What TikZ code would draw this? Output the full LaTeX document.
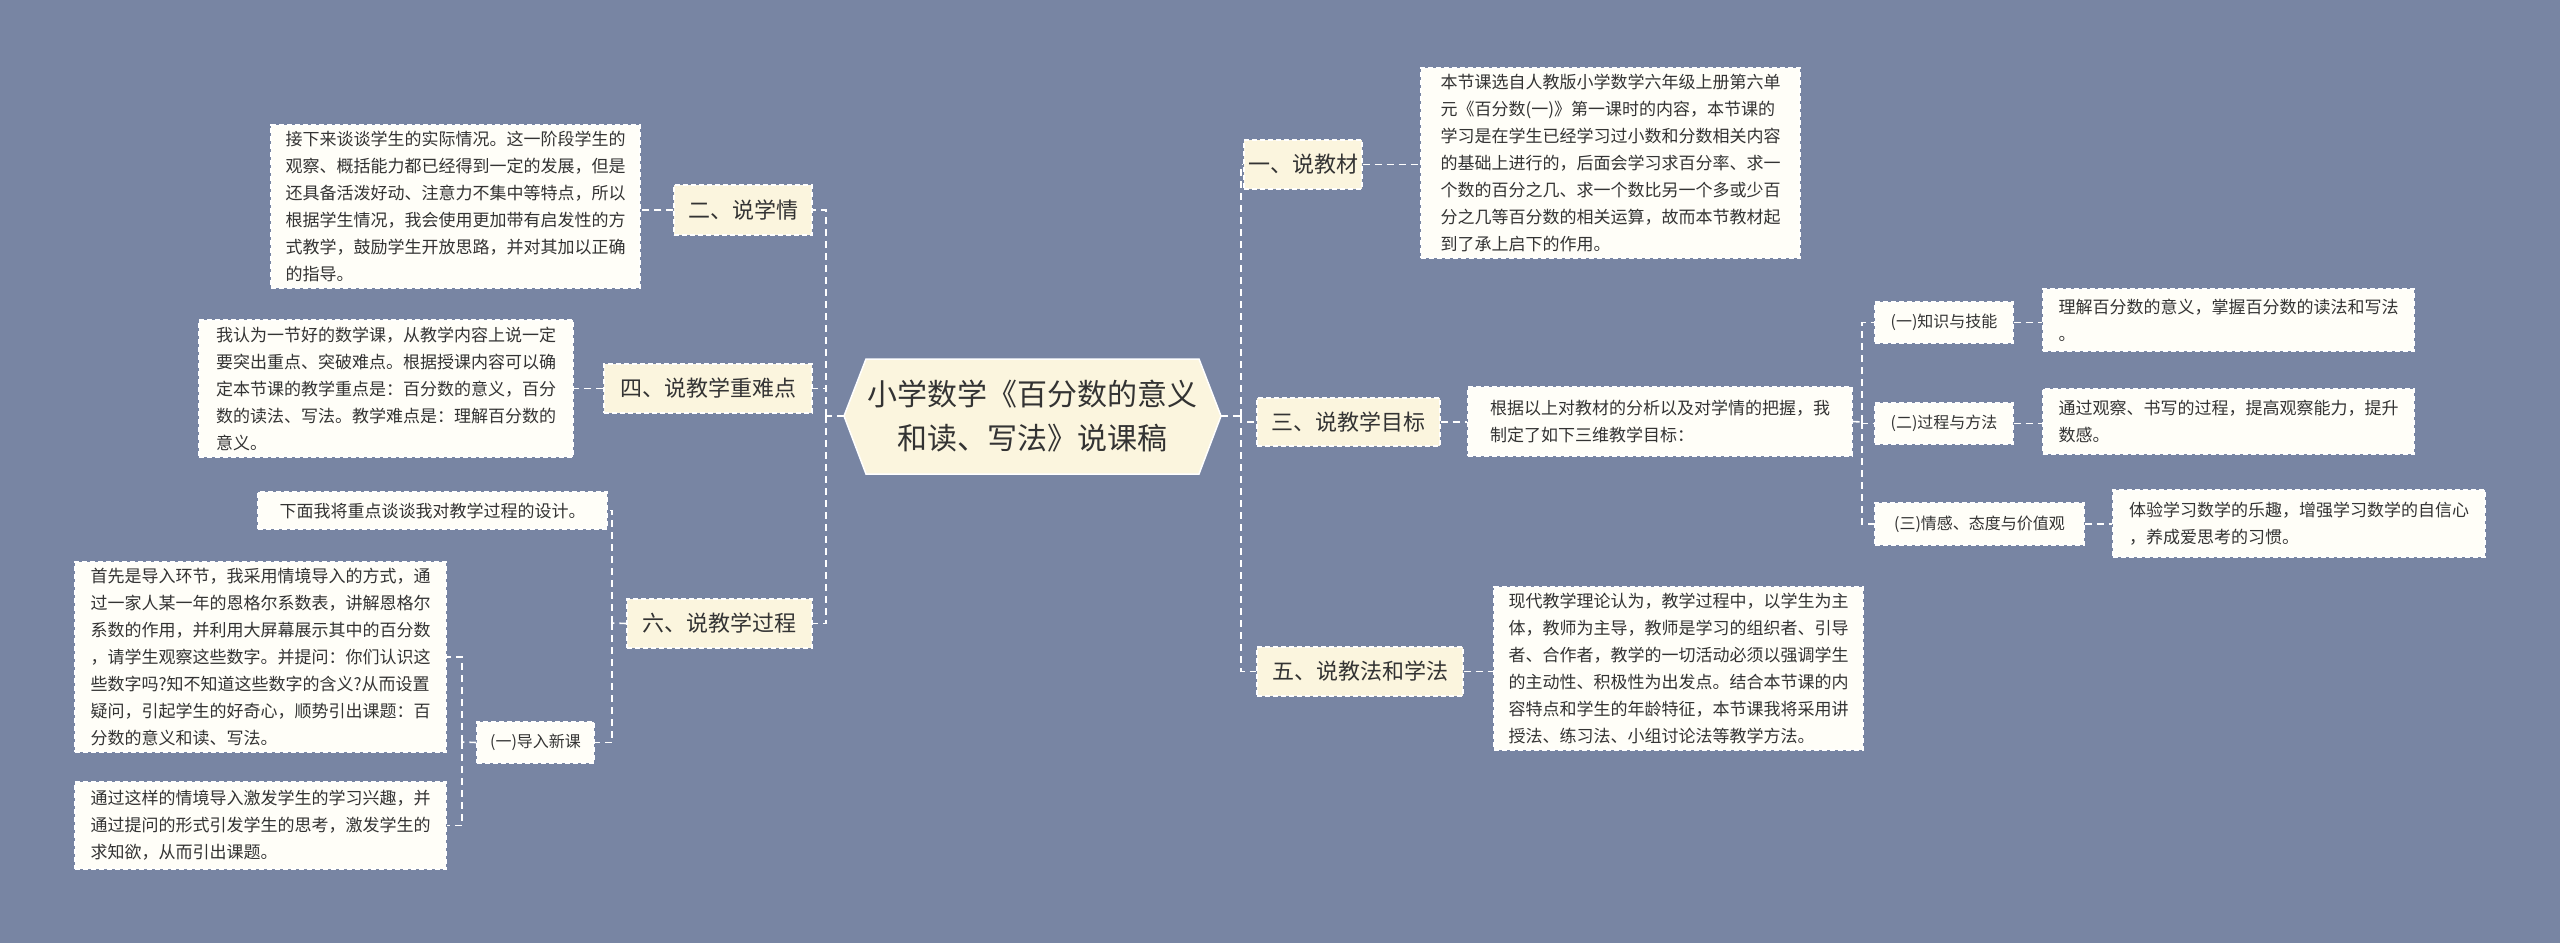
\documentclass[tikz,border=0pt]{standalone}
\usepackage{fontspec}
\setmainfont{Noto Sans CJK SC}
\begin{document}
\definecolor{bg}{HTML}{7885A3}
\definecolor{cream}{HTML}{FBF5DE}
\definecolor{paper}{HTML}{FFFEF8}
\definecolor{ink}{HTML}{333333}
\newcommand\bx[7]{\node[#6,minimum width={#4-#2},minimum height={#5-#3}] (#1) at ({(#2+#4)/2},{(#3+#5)/2}) {#7};}
\begin{tikzpicture}[x=1pt,y=-1pt,
  conn/.style={draw=white,line width=1.6pt,dash pattern=on 7pt off 5pt},
  lvone/.style={fill=cream,draw=white,line width=1.3pt,dash pattern=on 5pt off 3pt,text=ink,font=\fontsize{22}{26}\selectfont,inner sep=4pt},
  lvtwo/.style={fill=paper,draw=white,line width=1.3pt,dash pattern=on 5pt off 3pt,text=ink,font=\fontsize{16}{20}\selectfont,inner sep=4pt},
  detail/.style={fill=paper,draw=white,line width=1.3pt,dash pattern=on 5pt off 3pt,text=ink,font=\fontsize{17}{27}\selectfont,align=left,inner sep=6pt}]
\fill[bg] (0,0) rectangle (2560,943);
\useasboundingbox (0,0) rectangle (2560,943);
% central
\coordinate (cL) at (844,416);
\coordinate (cR) at (1221,416);
\fill[cream,draw=white,line width=1.5pt] (cL) -- (866,359) -- (1199,359) -- (cR) -- (1199,474) -- (866,474) -- cycle;
\node[text=ink,font=\fontsize{30}{44}\selectfont,align=center] (center) at (1032,416) {小学数学《百分数的意义\\和读、写法》说课稿};
% right side
\bx{n1}{1257}{140}{1349}{189}{lvone}{一、说教材}
\bx{d1}{1421}{73}{1800}{253}{detail}{本节课选自人教版小学数学六年级上册第六单\\元《百分数(一)》第一课时的内容，本节课的\\学习是在学生已经学习过小数和分数相关内容\\的基础上进行的，后面会学习求百分率、求一\\个数的百分之几、求一个数比另一个多或少百\\分之几等百分数的相关运算，故而本节教材起\\到了承上启下的作用。}
\bx{n3}{1257}{398}{1440}{446}{lvone}{三、说教学目标}
\bx{d3}{1468}{387}{1852}{456}{detail}{根据以上对教材的分析以及对学情的把握，我\\制定了如下三维教学目标：}
\bx{s1}{1875}{302}{2013}{343}{lvtwo}{(一)知识与技能}
\bx{e1}{2043}{289}{2414}{351}{detail}{理解百分数的意义，掌握百分数的读法和写法\\。}
\bx{s2}{1875}{403}{2013}{444}{lvtwo}{(二)过程与方法}
\bx{e2}{2043}{389}{2414}{454}{detail}{通过观察、书写的过程，提高观察能力，提升\\数感。}
\bx{s3}{1875}{503}{2084}{545}{lvtwo}{(三)情感、态度与价值观}
\bx{e3}{2113}{490}{2485}{557}{detail}{体验学习数学的乐趣，增强学习数学的自信心\\，养成爱思考的习惯。}
\bx{n5}{1257}{647}{1463}{696}{lvone}{五、说教法和学法}
\bx{d5}{1494}{591}{1863}{746}{detail}{现代教学理论认为，教学过程中，以学生为主\\体，教师为主导，教师是学习的组织者、引导\\者、合作者，教学的一切活动必须以强调学生\\的主动性、积极性为出发点。结合本节课的内\\容特点和学生的年龄特征，本节课我将采用讲\\授法、练习法、小组讨论法等教学方法。}
% left side
\bx{n2}{674}{185}{812}{235}{lvone}{二、说学情}
\bx{d2}{271}{129}{640}{284}{detail}{接下来谈谈学生的实际情况。这一阶段学生的\\观察、概括能力都已经得到一定的发展，但是\\还具备活泼好动、注意力不集中等特点，所以\\根据学生情况，我会使用更加带有启发性的方\\式教学，鼓励学生开放思路，并对其加以正确\\的指导。}
\bx{n4}{604}{364}{812}{413}{lvone}{四、说教学重难点}
\bx{d4}{199}{320}{573}{457}{detail}{我认为一节好的数学课，从教学内容上说一定\\要突出重点、突破难点。根据授课内容可以确\\定本节课的教学重点是：百分数的意义，百分\\数的读法、写法。教学难点是：理解百分数的\\意义。}
\bx{n6}{627}{599}{812}{648}{lvone}{六、说教学过程}
\bx{d6}{258}{492}{607}{529}{detail}{下面我将重点谈谈我对教学过程的设计。}
\bx{s6}{477}{722}{594}{763}{lvtwo}{(一)导入新课}
\bx{f1}{75}{568}{446}{746}{detail}{首先是导入环节，我采用情境导入的方式，通\\过一家人某一年的恩格尔系数表，讲解恩格尔\\系数的作用，并利用大屏幕展示其中的百分数\\，请学生观察这些数字。并提问：你们认识这\\些数字吗?知不知道这些数字的含义?从而设置\\疑问，引起学生的好奇心，顺势引出课题：百\\分数的意义和读、写法。}
\bx{f2}{75}{782}{446}{869}{detail}{通过这样的情境导入激发学生的学习兴趣，并\\通过提问的形式引发学生的思考，激发学生的\\求知欲，从而引出课题。}
% connectors
\coordinate (rt) at (1241,416);
\coordinate (lt) at (826,416);
\draw[conn] (cR) -- (rt);
\draw[conn] (cL) -- (lt);
\foreach \n in {n1,n3,n5} \draw[conn] (rt) |- (\n.west);
\foreach \n in {n2,n4,n6} \draw[conn] (lt) |- (\n.east);
\draw[conn] (n1.east) -- (n1.east -| d1.west);
\draw[conn] (n3.east) -- (n3.east -| d3.west);
\draw[conn] (n5.east) -- (n5.east -| d5.west);
\draw[conn] (n2.west) -- (n2.west -| d2.east);
\draw[conn] (n4.west) -- (n4.west -| d4.east);
\coordinate (gt) at (1862,422);
\draw[conn] (d3.east) -- (gt);
\foreach \n/\e in {s1/e1,s2/e2,s3/e3} {\draw[conn] (gt) |- (\n.west); \draw[conn] (\n.east) -- (\n.east -| \e.west);}
\coordinate (pt) at (612,623);
\draw[conn] (n6.west) -- (pt);
\draw[conn] (pt) |- (d6.east);
\draw[conn] (pt) |- (s6.east);
\coordinate (qt) at (462,742);
\draw[conn] (s6.west) -- (qt);
\draw[conn] (qt) |- (f1.east);
\draw[conn] (qt) |- (f2.east);
\end{tikzpicture}
\end{document}
